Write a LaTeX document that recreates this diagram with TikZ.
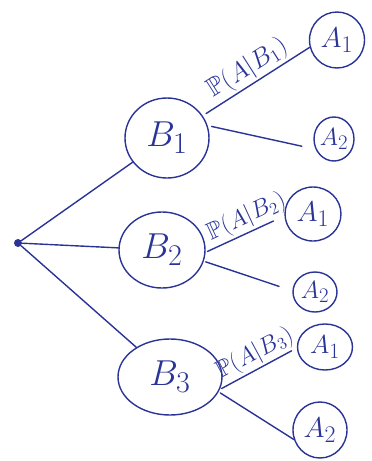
\documentclass[tikz,border=0pt]{standalone}
\usepackage{graphicx}
\usepackage{amssymb}
\usetikzlibrary{shapes.geometric}
\definecolor{ink}{RGB}{42,52,150}
\newcommand{\bigtxt}[2]{\scalebox{#1}{$#2$}}
\begin{document}
\begin{tikzpicture}[x=1pt,y=-1pt,
  ink line/.style={draw=ink,line width=1.4pt,line cap=round},
  bnode/.style={ellipse,draw=ink,line width=1.4pt,inner sep=0pt,text=ink,font=\fontsize{24.88}{27}\selectfont},
  anode/.style={ellipse,draw=ink,line width=1.4pt,inner sep=0pt,text=ink,font=\fontsize{24.88}{27}\selectfont},
  plabel/.style={text=ink,font=\fontsize{17.28}{19}\selectfont,inner sep=1pt}]
\useasboundingbox (0,0) rectangle (372,461);
\node[circle,fill=ink,inner sep=0pt,minimum size=8pt] (root) at (18,243) {};
\node[bnode,minimum width=84pt,minimum height=80pt] (B1) at (167,138) {\bigtxt{1.45}{B_1}};
\node[bnode,minimum width=86pt,minimum height=76pt] (B2) at (162,250) {\bigtxt{1.45}{B_2}};
\node[bnode,minimum width=104pt,minimum height=76pt] (B3) at (170,377) {\bigtxt{1.45}{B_3}};
\node[anode,minimum width=55pt,minimum height=56pt] (A11) at (337,40) {\bigtxt{1.15}{A_1}};
\node[anode,minimum width=40pt,minimum height=44pt] (A12) at (334,139) {\bigtxt{1.0}{A_2}};
\node[anode,minimum width=56pt,minimum height=54pt] (A21) at (313,214) {\bigtxt{1.15}{A_1}};
\node[anode,minimum width=44pt,minimum height=40pt] (A22) at (315,292) {\bigtxt{1.0}{A_2}};
\node[anode,minimum width=55pt,minimum height=46pt] (A31) at (325,347) {\bigtxt{1.05}{A_1}};
\node[anode,minimum width=54pt,minimum height=56pt] (A32) at (320,430) {\bigtxt{1.15}{A_2}};
\draw[ink line] (root) -- (B1);
\draw[ink line] (root) -- (B2);
\draw[ink line] (root) -- (B3);
\draw[ink line,shorten <=4pt] (B1.32) -- node[plabel,pos=0.5,above=1pt,sloped] {\bigtxt{1.5}{\mathbb{P}(A|B_1)}} (A11.195);
\draw[ink line,shorten <=4pt,shorten >=14pt] (B1.17) -- (A12.209);
\draw[ink line,shorten <=2pt,shorten >=12pt] (B2.-3) -- node[plabel,pos=0.6,above=1pt,sloped] {\bigtxt{1.4}{\mathbb{P}(A|B_2)}} (A21.184);
\draw[ink line,shorten <=2pt,shorten >=14pt] (B2.-15) -- (A22.177);
\draw[ink line,shorten <=2pt,shorten >=6pt] (B3.-14) -- node[plabel,pos=0.55,above=1pt,sloped] {\bigtxt{1.4}{\mathbb{P}(A|B_3)}} (A31.182);
\draw[ink line,shorten <=2pt] (B3.-17) -- (A32.200);
\end{tikzpicture}
\end{document}
